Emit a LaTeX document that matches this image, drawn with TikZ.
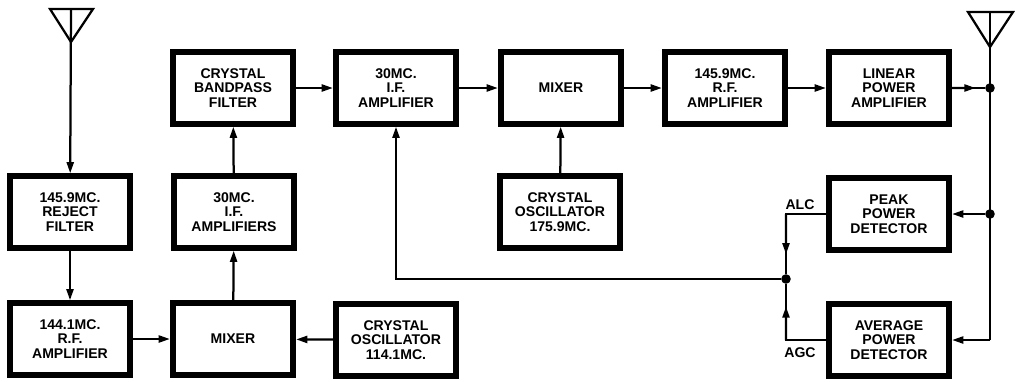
\documentclass[tikz,border=0pt]{standalone}
\usepackage{fontspec}
\setmainfont{Liberation Sans}
\usetikzlibrary{arrows.meta,calc}

\begin{document}
\begin{tikzpicture}[
  x=0.025cm, y=-0.025cm,
  >={Triangle[length=8pt,width=5pt]},
  blk/.style={draw, line width=4.4pt, minimum width=3.0cm, minimum height=1.78cm,
              align=center, inner sep=1pt, font=\bfseries\fontsize{10}{10.5}\selectfont},
  wire/.style={line width=1.6pt},
  e/.style={wire, ->},
  dot/.style={circle, fill, inner sep=0pt, minimum size=0.24cm},
  lbl/.style={font=\bfseries\fontsize{10}{11}\selectfont},
]
\useasboundingbox (0,0) rectangle (1015,382);

% top row
\node[blk] (bpf)   at (233,88) {CRYSTAL\\BANDPASS\\FILTER};
\node[blk] (ifamp) at (396,88) {30MC.\\I.F.\\AMPLIFIER};
\node[blk] (mixb)  at (561,88) {MIXER};
\node[blk] (rfb)   at (725,88) {145.9MC.\\R.F.\\AMPLIFIER};
\node[blk] (lpa)   at (889,88) {LINEAR\\POWER\\AMPLIFIER};

% middle row
\node[blk] (rej)   at (70,212)  {145.9MC.\\REJECT\\FILTER};
\node[blk] (ifs)   at (234,212) {30MC.\\I.F.\\AMPLIFIERS};
\node[blk] (oscb)  at (560,212) {CRYSTAL\\OSCILLATOR\\175.9MC.};
\node[blk] (peak)  at (889,214) {PEAK\\POWER\\DETECTOR};

% bottom row
\node[blk] (rfa)   at (70,339)  {144.1MC.\\R.F.\\AMPLIFIER};
\node[blk] (mixa)  at (233,339) {MIXER};
\node[blk] (osca)  at (396,340) {CRYSTAL\\OSCILLATOR\\114.1MC.};
\node[blk] (avg)   at (889,340) {AVERAGE\\POWER\\DETECTOR};

% antennas
\coordinate (ant1) at (71,9);
\coordinate (ant2) at (990,12);
\draw[wire, line join=miter] (50,9) -- (93,9) -- (71,42) -- cycle;
\draw[wire, line join=miter] (968,12) -- (1013,12) -- (990,47) -- cycle;

% receive chain
\draw[e] (ant1) -- (rej);
\draw[e] (rej) -- (rfa);
\draw[e] (rfa) -- (mixa);
\draw[e] (osca) -- (mixa);
\draw[e] (mixa) -- (ifs);
\draw[e] (ifs) -- (bpf);
\draw[e] (bpf) -- (ifamp);
\draw[e] (ifamp) -- (mixb);
\draw[e] (oscb) -- (mixb);
\draw[e] (mixb) -- (rfb);
\draw[e] (rfb) -- (lpa);

% output and detectors
\node[dot] (d1) at (ant2 |- lpa.east) {};
\node[dot] (d2) at (ant2 |- peak.east) {};
\draw[wire] (lpa.east) -- (d1);
\draw[e] (lpa.east) -- ($(lpa.east)!0.62!(d1)$);
\draw[wire] (ant2) -- (ant2 |- avg.east);
\draw[e] (d2) -- (peak.east);
\draw[e] (ant2 |- avg.east) -- (avg.east);

% ALC / AGC feedback
\node[dot] (jn) at (786,279) {};
\draw[wire] (peak.west) -| (jn);
\draw[e] (peak.west -| jn) -- ($(peak.west -| jn)!0.62!(jn)$);
\draw[wire] (avg.west) -| (jn);
\draw[e] (avg.west -| jn) -- ($(avg.west -| jn)!0.55!(jn)$);
\draw[e] (jn) -| (ifamp.south);
\node[lbl] (alc) at (800,205) {ALC};
\node[lbl] (agc) at (800,353) {AGC};
\end{tikzpicture}
\end{document}
